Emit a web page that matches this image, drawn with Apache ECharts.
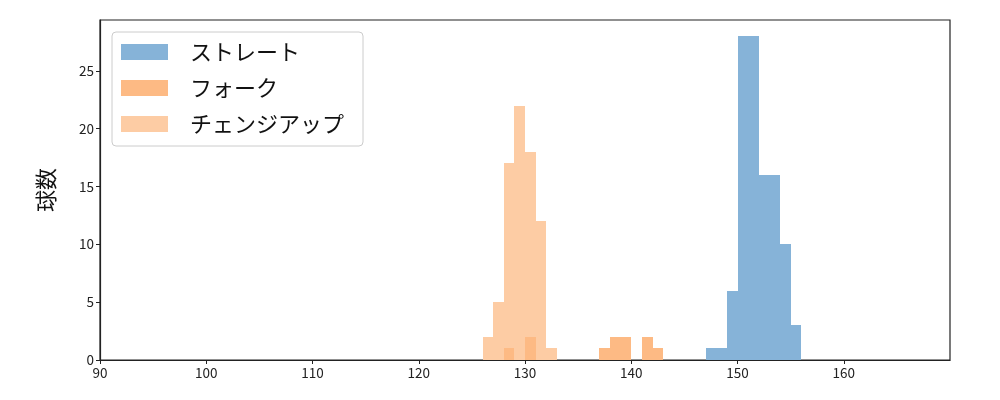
<!DOCTYPE html>
<html><head><meta charset="utf-8">
<script src="https://cdn.jsdelivr.net/npm/echarts@6/dist/echarts.min.js"></script>
<style>html,body{margin:0;padding:0;background:#fff}#c{width:1000px;height:400px}</style>
</head><body><div id="c"></div>
<script>
// bin start values (bins are 1 unit wide)
const straightBins = [147,148,149,150,151,152,153,154,155];
const straightCounts = [1,1,6,28,28,16,16,10,3];
const forkBins = [128,130,137,138,139,141,142];
const forkCounts = [1,2,1,2,2,2,1];
const changeBins = [126,127,128,129,130,131,132];
const changeCounts = [2,5,17,22,18,12,1];
const xTicks = [90,100,110,120,130,140,150,160];
const yTicks = [0,5,10,15,20,25];
const seriesNames = ['ストレート','フォーク','チェンジアップ'];
const binWidth = 1;

const FONT = '"Noto Sans CJK JP", "DejaVu Sans", sans-serif';
const colors = {'ストレート':'#86b3d8','フォーク':'#fdba84','チェンジアップ':'#fdcca4'};

function mk(bins, counts){ return bins.map((b,i)=>[b, b+binWidth, counts[i]]); }
function renderItem(params, api){
  const x0 = api.value(0), x1 = api.value(1), h = api.value(2);
  const p0 = api.coord([x0, h]);
  const p1 = api.coord([x1, 0]);
  const l = Math.round(p0[0]), r = Math.round(p1[0]);
  const t = Math.round(p0[1]), b = Math.round(p1[1]);
  return {type:'rect', shape:{x:l, y:t, width:r-l, height:b-t},
    style:{fill: api.visual('color')}};
}
const datasets = {
  'ストレート': mk(straightBins,straightCounts),
  'フォーク': mk(forkBins,forkCounts),
  'チェンジアップ': mk(changeBins,changeCounts)
};
// draw order: straight, changeup, fork on top
const drawOrder = ['ストレート','チェンジアップ','フォーク'];

const chart = echarts.init(document.getElementById('c'), null, {renderer:'canvas'});
chart.setOption({
  animation:false,
  textStyle:{fontFamily:FONT},
  grid:{left:100,right:50,top:20,bottom:40,show:true,borderColor:'#222',borderWidth:1.2,backgroundColor:'transparent'},
  legend:{
    orient:'vertical', left:112, top:32,
    data:seriesNames.map(n=>({name:n, itemStyle:{color:colors[n]}})),
    icon:'rect', itemWidth:47, itemHeight:16, itemGap:14,
    padding:[9,19,11,9],
    borderColor:'#cccccc', borderWidth:1, borderRadius:4, backgroundColor:'#fff',
    textStyle:{fontSize:22, lineHeight:22, color:'#111', fontFamily:FONT, padding:[0,0,0,17]}
  },
  xAxis:{type:'value', min:90, max:170,
    axisLine:{show:true, onZero:false, lineStyle:{color:'#222',width:1.2}},
    splitLine:{show:false},
    axisTick:{show:true, length:4, lineStyle:{color:'#222'}, customValues:xTicks},
    axisLabel:{fontSize:13.5, color:'#222', margin:6, customValues:xTicks, fontFamily:FONT}
  },
  yAxis:{type:'value', min:0, max:29.4,
    name:'球数', nameLocation:'middle', nameGap:43, nameRotate:90,
    nameTextStyle:{fontSize:22, color:'#111', fontFamily:FONT},
    axisLine:{show:true, lineStyle:{color:'#222',width:1.2}},
    splitLine:{show:false},
    axisTick:{show:true, length:4, lineStyle:{color:'#222'}, customValues:yTicks},
    axisLabel:{fontSize:13.5, color:'#222', margin:6, customValues:yTicks, fontFamily:FONT}
  },
  series: drawOrder.map(n=>({name:n, type:'custom', renderItem, data:datasets[n],
    itemStyle:{color:colors[n]}, encode:{x:[0,1],y:2}}))
});
</script></body></html>
